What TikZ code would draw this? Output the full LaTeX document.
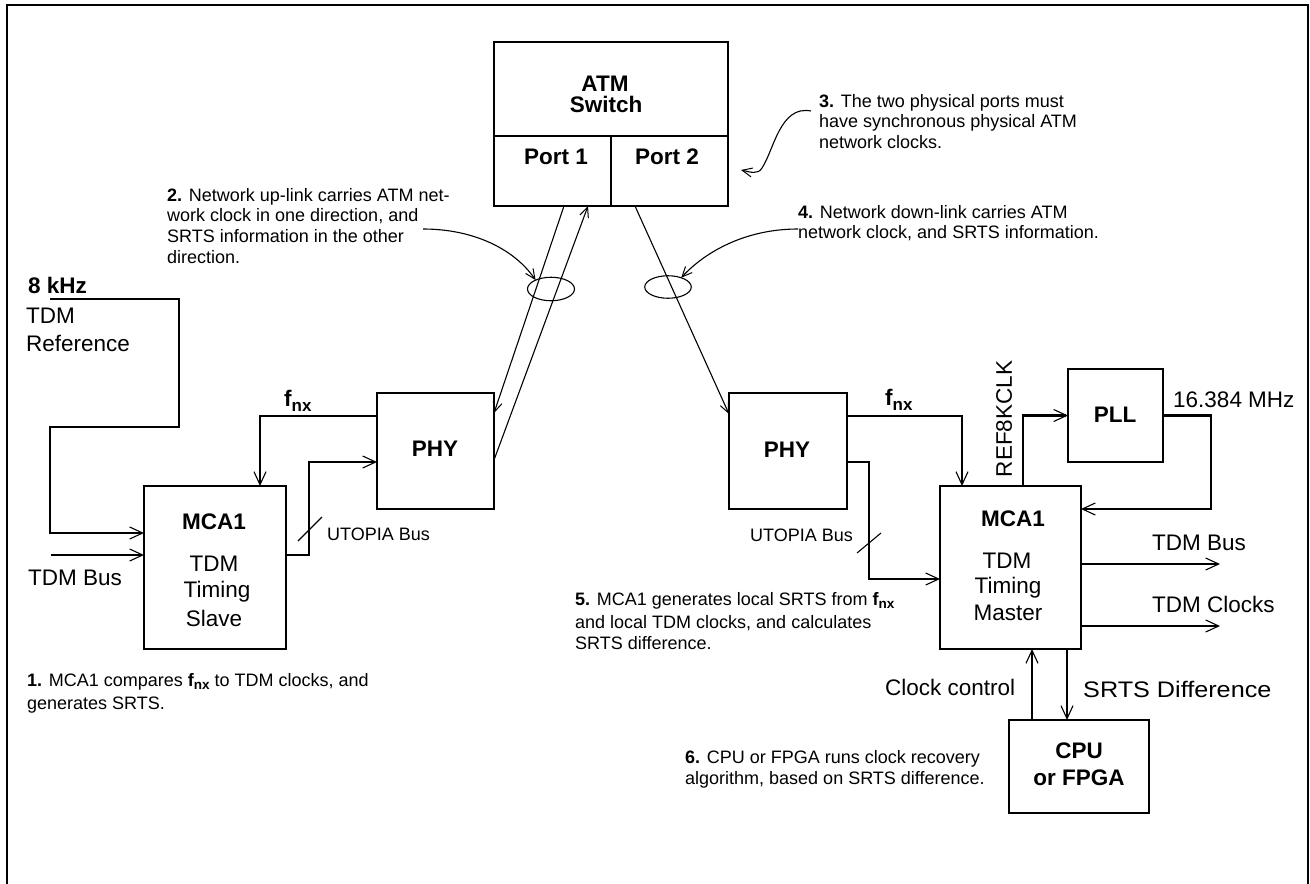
\documentclass[tikz,border=0pt]{standalone}
\usepackage{fontspec}
\setmainfont{Liberation Sans}
\usetikzlibrary{arrows.meta,shapes.geometric}
\newcommand\fBig{\fontsize{22.5}{24}\selectfont}
\newcommand\fAnn{\fontsize{18}{20.7}\selectfont}
\newcommand\fnxBig{\textbf{f\raisebox{-5pt}{\fontsize{17}{17}\selectfont nx}}}
\newcommand\fnxAnn{\textbf{f\raisebox{-3.5pt}{\fontsize{13.5}{13.5}\selectfont nx}}}
\newcommand\mylines[2]{\vtop{\baselineskip=#1\lineskiplimit=-100pt\relax #2}}
\begin{document}
\begin{tikzpicture}[x=1pt,y=-1pt,
 blk/.style={draw, line width=2.7pt, inner sep=0pt, outer sep=0pt},
 wire/.style={line width=2.6pt},
 fine/.style={line width=1.1pt},
 arr/.style={-{Straight Barb[length=13pt,width=12pt,line width=1.1pt]}},
 arrs/.style={-{Straight Barb[length=10pt,width=9pt,line width=1pt]}},
 big/.style={font=\fBig, inner sep=0pt},
 bigb/.style={font=\fBig\bfseries, inner sep=0pt},
 ann/.style={font=\fAnn, inner sep=0pt, anchor=base west},
 oval/.style={draw, ellipse, line width=1.1pt, inner sep=0pt, outer sep=0pt}
]
\useasboundingbox (0,0) rectangle (1310,884);
% frame
\draw[line width=2.4pt] (7,884) -- (7,5) -- (1308,5) -- (1308,884);

% ---- boxes ----
\node[blk, minimum width=234pt, minimum height=94pt] (atm) at (611,89) {};
\node[blk, minimum width=117pt, minimum height=70pt] (port1) at (552.5,171) {};
\node[blk, minimum width=117pt, minimum height=70pt] (port2) at (669.5,171) {};
\node[blk, minimum width=117pt, minimum height=116pt] (phyL) at (435.5,451) {};
\node[blk, minimum width=142pt, minimum height=163pt] (mcaL) at (215,567.5) {};
\node[blk, minimum width=118pt, minimum height=116pt] (phyR) at (788,451) {};
\node[blk, minimum width=141pt, minimum height=163pt] (mcaR) at (1010.5,567.5) {};
\node[blk, minimum width=95pt, minimum height=93pt] (pll) at (1115.5,415.5) {};
\node[blk, minimum width=140pt, minimum height=93pt] (cpu) at (1079,766.5) {};

\node[oval, minimum width=47pt, minimum height=23.5pt] (ov1) at (551,289) {};
\node[oval, minimum width=46.5pt, minimum height=22.5pt] (ov2) at (668,287) {};

% ---- box texts ----
\node[bigb, anchor=base] (tatm) at (605,91) {ATM};
\node[bigb, anchor=base] (tsw) at (606,112) {Switch};
\node[bigb, anchor=base] (tp1) at (556,164) {Port 1};
\node[bigb, anchor=base] (tp2) at (667,164) {Port 2};
\node[bigb, anchor=base] (tphyL) at (435,456) {PHY};
\node[bigb, anchor=base] (tphyR) at (787,457) {PHY};
\node[bigb, anchor=base] (tpll) at (1115,422) {PLL};
\node[bigb, anchor=base] (tmcaL) at (214,529) {MCA1};
\node[big, anchor=base] (tl1) at (214,571) {TDM};
\node[big, anchor=base] (tl2) at (217,597) {Timing};
\node[big, anchor=base] (tl3) at (214,626) {Slave};
\node[bigb, anchor=base] (tmcaR) at (1013,526) {MCA1};
\node[big, anchor=base] (tr1) at (1007,568) {TDM};
\node[big, anchor=base] (tr2) at (1008,593) {Timing};
\node[big, anchor=base] (tr3) at (1008,620) {Master};
\node[bigb, anchor=base] (tcpu1) at (1079,758) {CPU};
\node[bigb, anchor=base] (tcpu2) at (1079,785) {or FPGA};

% ---- labels ----
\node[bigb, anchor=base west] (t8k) at (28,293) {8 kHz};
\node[big, anchor=base west] (tref) at (26,323) {\mylines{28pt}{\hbox{TDM}\hbox{Reference}}};
\node[big, anchor=base west] (tbusL) at (28,585) {TDM Bus};
\node[big, anchor=base west] (tfxL) at (284,406) {\fnxBig};
\node[big, anchor=base west] (tfxR) at (885,405) {\fnxBig};
\node[ann] (tutL) at (327,540) {UTOPIA Bus};
\node[ann] (tutR) at (750,541) {UTOPIA Bus};
\node[big, rotate=90, anchor=center] (tref8) at (1004,419) {REF8KCLK};
\node[big, anchor=base west] (tmhz) at (1173,407) {16.384 MHz};
\node[big, anchor=base west] (tbusR) at (1152,550) {TDM Bus};
\node[big, anchor=base west] (tclkR) at (1152,612) {TDM Clocks};
\node[big, anchor=base west] (tcc) at (885,695) {Clock control};
\node[big, anchor=base west, xscale=1.12] (tsd) at (1083,697) {SRTS Difference};

% ---- annotations ----
\node[ann] (a1) at (27,686) {\mylines{20.7pt}{\hbox{\textbf{1.} MCA1 compares \fnxAnn{} to TDM clocks, and}\kern3pt\hbox{generates SRTS.}}};
\node[ann] (a2) at (167,201) {\mylines{20.7pt}{\hbox{\textbf{2.} Network up-link carries ATM net-}\hbox{work clock in one direction, and}\hbox{SRTS information in the other}\hbox{direction.}}};
\node[ann] (a3) at (819,107) {\mylines{20.6pt}{\hbox{\textbf{3.} The two physical ports must}\hbox{have synchronous physical ATM}\hbox{network clocks.}}};
\node[ann] (a4) at (798,218) {\mylines{20.4pt}{\hbox{\textbf{4.} Network down-link carries ATM}\hbox{network clock, and SRTS information.}}};
\node[ann] (a5) at (575,605) {\mylines{21pt}{\hbox{\textbf{5.} MCA1 generates local SRTS from \fnxAnn}\kern2pt\hbox{and local TDM clocks, and calculates}\hbox{SRTS difference.}}};
\node[ann] (a6) at (685,763) {\mylines{21.5pt}{\hbox{\textbf{6.} CPU or FPGA runs clock recovery}\hbox{algorithm, based on SRTS difference.}}};

% ---- helper coordinates ----
\coordinate (refs) at (50,299);
\coordinate (tdmin) at (51,555);
\coordinate (fxL) at (260,416);
\coordinate (uL1) at (309,555);
\coordinate (uL2) at (309,462);
\coordinate (la1) at (564,0);
\coordinate (la2) at (0,413);
\coordinate (lb1) at (0,460);
\coordinate (lb2) at (588,0);
\coordinate (lc1) at (635,0);
\coordinate (lc2) at (0,414);
\coordinate (fxR) at (962,416);
\coordinate (uR1) at (869,462);
\coordinate (uR2) at (869,579);
\coordinate (rk) at (1023,0);
\coordinate (po) at (1211,509);
\coordinate (ob) at (1220,564);
\coordinate (oc) at (1220,626);
\coordinate (cc) at (1032,0);
\coordinate (sd) at (1067,0);
\coordinate (c2s) at (423,229);
\coordinate (c3s) at (811,111);
\coordinate (c3e) at (741,170);
\coordinate (c4s) at (798,229);

% ---- wires ----
\draw[wire,arr] (refs) -- (179,299) -- (179,427) -- (50,427) -- (50,533) -- (mcaL.west |- 0,533);
\draw[wire,arr] (tdmin) -- (mcaL.west |- tdmin);
\draw[wire,arr] (phyL.west |- fxL) -| (mcaL.north -| fxL);
\draw[wire,arr] (mcaL.east |- uL1) -- (uL1) -- (uL2) -- (phyL.west |- uL2);
\draw[fine] (298,541) -- (322,517);
\draw[wire,arr] (phyR.east |- fxR) -| (mcaR.north -| fxR);
\draw[wire,arr] (phyR.east |- uR1) -- (uR1) -- (uR2) -- (mcaR.west |- uR2);
\draw[fine] (857,553) -- (881,533);
\draw[wire,arr] (mcaR.north -| rk) |- (pll.west);
\draw[wire,arr] (pll.east) -| (po) -- (mcaR.east |- po);
\draw[wire,arr] (mcaR.east |- ob) -- (ob);
\draw[wire,arr] (mcaR.east |- oc) -- (oc);
\draw[wire,arr] (cpu.north -| cc) -- (mcaR.south -| cc);
\draw[wire,arr] (mcaR.south -| sd) -- (cpu.north -| sd);

% ---- network links ----
\draw[fine,arrs] (port1.south -| la1) -- (phyL.east |- la2);
\draw[fine,arrs] (phyL.east |- lb1) -- (port1.south -| lb2);
\draw[fine,arrs] (port2.south -| lc1) -- (phyR.west |- lc2);

% ---- annotation pointers ----
\draw[fine,arrs] (c2s) .. controls (475,229) and (515,250) .. (ov1.150);
\draw[fine,arrs] (c4s) .. controls (745,229) and (705,252) .. (ov2.35);
\draw[fine,arrs] (c3s) .. controls (780,105) and (774,150) .. (762,168) .. controls (758,175) and (750,172) .. (c3e);
\end{tikzpicture}
\end{document}
